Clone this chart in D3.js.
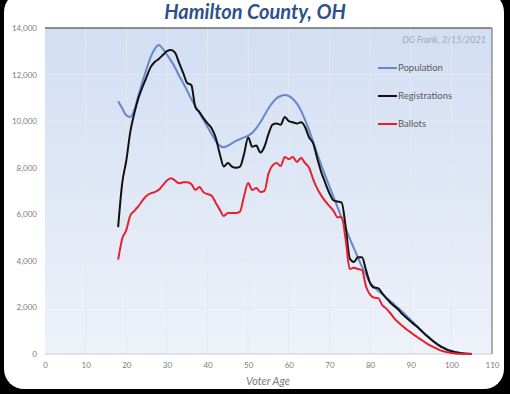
<!DOCTYPE html>
<html><head><meta charset="utf-8">
<script src="https://cdn.jsdelivr.net/npm/d3@7"></script>
<style>html,body{margin:0;padding:0;background:#000;}svg{display:block;}</style>
</head><body>
<svg id="c" width="510" height="394"></svg>
<script>
const ages = d3.range(18, 106);
const population = [10850,10550,10250,10180,10500,11100,11700,12250,12750,13100,13270,13100,12850,12600,12300,11950,11640,11300,10950,10650,10350,10050,9750,9450,9150,8950,8880,8950,9050,9150,9230,9300,9380,9500,9700,9950,10250,10550,10800,10980,11080,11120,11080,10950,10750,10450,10050,9600,9100,8600,8100,7650,7200,6750,6300,5850,5400,4950,4550,4150,3750,3400,3050,2880,2720,2570,2420,2270,2120,1960,1800,1630,1460,1290,1120,950,790,640,500,380,280,200,140,90,55,30,15,8];
const registrations = [5450,7340,8300,9550,10350,11000,11470,11900,12320,12540,12670,12840,13010,13050,12940,12500,12070,11640,11550,10600,10390,10130,9900,9700,9300,8600,8050,8200,8050,8000,8050,8600,9300,8900,8950,8650,8900,9450,9850,9900,9850,10180,10000,9950,9900,9950,9750,9300,9050,8400,7800,7340,6900,6600,6550,6500,5450,4100,3950,4150,4150,3600,3050,2850,2830,2600,2400,2200,2050,1900,1700,1550,1400,1250,1100,930,770,620,480,360,260,180,120,75,45,25,12,5];
const ballots = [4050,4950,5320,5950,6150,6350,6600,6800,6900,6950,7050,7250,7450,7550,7450,7330,7380,7380,7300,7050,7170,6950,6870,6800,6500,6200,5930,6050,6050,6050,6120,6800,7340,7040,7130,6960,7000,7750,8100,8200,8070,8460,8370,8460,8250,8420,8200,8000,7500,7100,6800,6550,6350,6150,5870,5880,4900,3650,3700,3650,3600,2900,2550,2420,2400,2100,1950,1750,1520,1350,1200,1050,930,800,680,560,450,350,260,180,120,75,45,25,12,5,2,0];
const seriesNames = ["Population","Registrations","Ballots"];
const seriesColors = ["#6488cc","#111111","#e8202c"];
const xTicks = d3.range(0, 111, 10);
const yTicks = d3.range(0, 14001, 2000);
const title = "Hamilton County, OH";
const xTitle = "Voter Age";
const credit = "DG Frank, 2/15/2021";

const svg = d3.select("#c");
svg.append("rect").attr("x",0).attr("y",0).attr("width",510).attr("height",394).attr("fill","#000");
svg.append("rect").attr("x",4).attr("y",-8).attr("width",500).attr("height",397).attr("rx",20).attr("fill","#fff");

const m = {l:45, r:492, t:28, b:354};
const x = d3.scaleLinear().domain([0,110]).range([m.l, m.r]);
const y = d3.scaleLinear().domain([0,14000]).range([m.b, m.t]);

const defs = svg.append("defs");
const g = defs.append("linearGradient").attr("id","bg").attr("x1",0).attr("y1",0).attr("x2",0).attr("y2",1);
g.append("stop").attr("offset","0%").attr("stop-color","#d2def3");
g.append("stop").attr("offset","100%").attr("stop-color","#eef2f9");
svg.append("rect").attr("x",m.l).attr("y",m.t).attr("width",m.r-m.l).attr("height",m.b-m.t).attr("fill","url(#bg)");

// grid
svg.append("g").selectAll("line").data(xTicks.slice(1,-1)).join("line")
  .attr("x1",d=>x(d)).attr("x2",d=>x(d)).attr("y1",m.t).attr("y2",m.b)
  .attr("stroke","#e6e9f0").attr("stroke-width",1).attr("opacity",0.9);
svg.append("g").selectAll("line").data(yTicks.slice(1,-1)).join("line")
  .attr("x1",m.l).attr("x2",m.r).attr("y1",d=>y(d)).attr("y2",d=>y(d))
  .attr("stroke","#e6e9f0").attr("stroke-width",1).attr("opacity",0.9);

// border
svg.append("line").attr("x1",m.l).attr("x2",m.r).attr("y1",m.t).attr("y2",m.t).attr("stroke","#6b6b6b").attr("stroke-width",1.6);
svg.append("line").attr("x1",m.r).attr("x2",m.r).attr("y1",m.t).attr("y2",m.b).attr("stroke","#8a8a8a").attr("stroke-width",1.4);
svg.append("line").attr("x1",m.l).attr("x2",m.r).attr("y1",m.b).attr("y2",m.b).attr("stroke","#c8ccd4").attr("stroke-width",1);

// axes
const xAxis = d3.axisBottom(x).tickValues(xTicks).tickSize(0).tickPadding(8);
const gx = svg.append("g").attr("transform",`translate(0,${m.b})`).call(xAxis);
gx.select(".domain").remove();
gx.selectAll("text").attr("fill","#7c7c7c").attr("font-family","Lato, 'Open Sans', sans-serif").attr("font-size",8);

const yAxis = d3.axisLeft(y).tickValues(yTicks).tickSize(0).tickPadding(8).tickFormat(d3.format(","));
const gy = svg.append("g").attr("transform",`translate(${m.l},0)`).call(yAxis);
gy.select(".domain").remove();
gy.selectAll("text").attr("fill","#7c7c7c").attr("font-family","Lato, 'Open Sans', sans-serif").attr("font-size",8);

// lines
const line = d3.line().x((d,i)=>x(ages[i])).y(d=>y(d)).curve(d3.curveMonotoneX);
[population, registrations, ballots].forEach((s,i)=>{
  svg.append("path").attr("d", line(s)).attr("fill","none")
    .attr("stroke", seriesColors[i]).attr("stroke-width", 2).attr("stroke-linejoin","round");
});

// legend
const ly = [68, 96, 124];
seriesNames.forEach((n,i)=>{
  svg.append("line").attr("x1",378).attr("x2",397).attr("y1",ly[i]).attr("y2",ly[i])
    .attr("stroke",seriesColors[i]).attr("stroke-width",2);
  svg.append("text").attr("x",398).attr("y",ly[i]+3.2).text(n)
    .attr("fill","#5a5a5a").attr("font-family","Lato, 'Open Sans', sans-serif").attr("font-size",9.5);
});

// texts
svg.append("text").attr("x",255).attr("y",19).attr("text-anchor","middle").text(title)
  .attr("fill","#2f5189").attr("font-family","Lato, 'Open Sans', sans-serif").attr("font-weight","bold")
  .attr("font-style","italic").attr("font-size",20);
svg.append("text").attr("x",268).attr("y",385).attr("text-anchor","middle").text(xTitle)
  .attr("fill","#7a7a7a").attr("font-family","Lato, 'Open Sans', sans-serif")
  .attr("font-style","italic").attr("font-size",11);
svg.append("text").attr("x",486).attr("y",43).attr("text-anchor","end").text(credit)
  .attr("fill","#a6a9b0").attr("font-family","Lato, 'Open Sans', sans-serif")
  .attr("font-style","italic").attr("font-size",9);
</script>
</body></html>
